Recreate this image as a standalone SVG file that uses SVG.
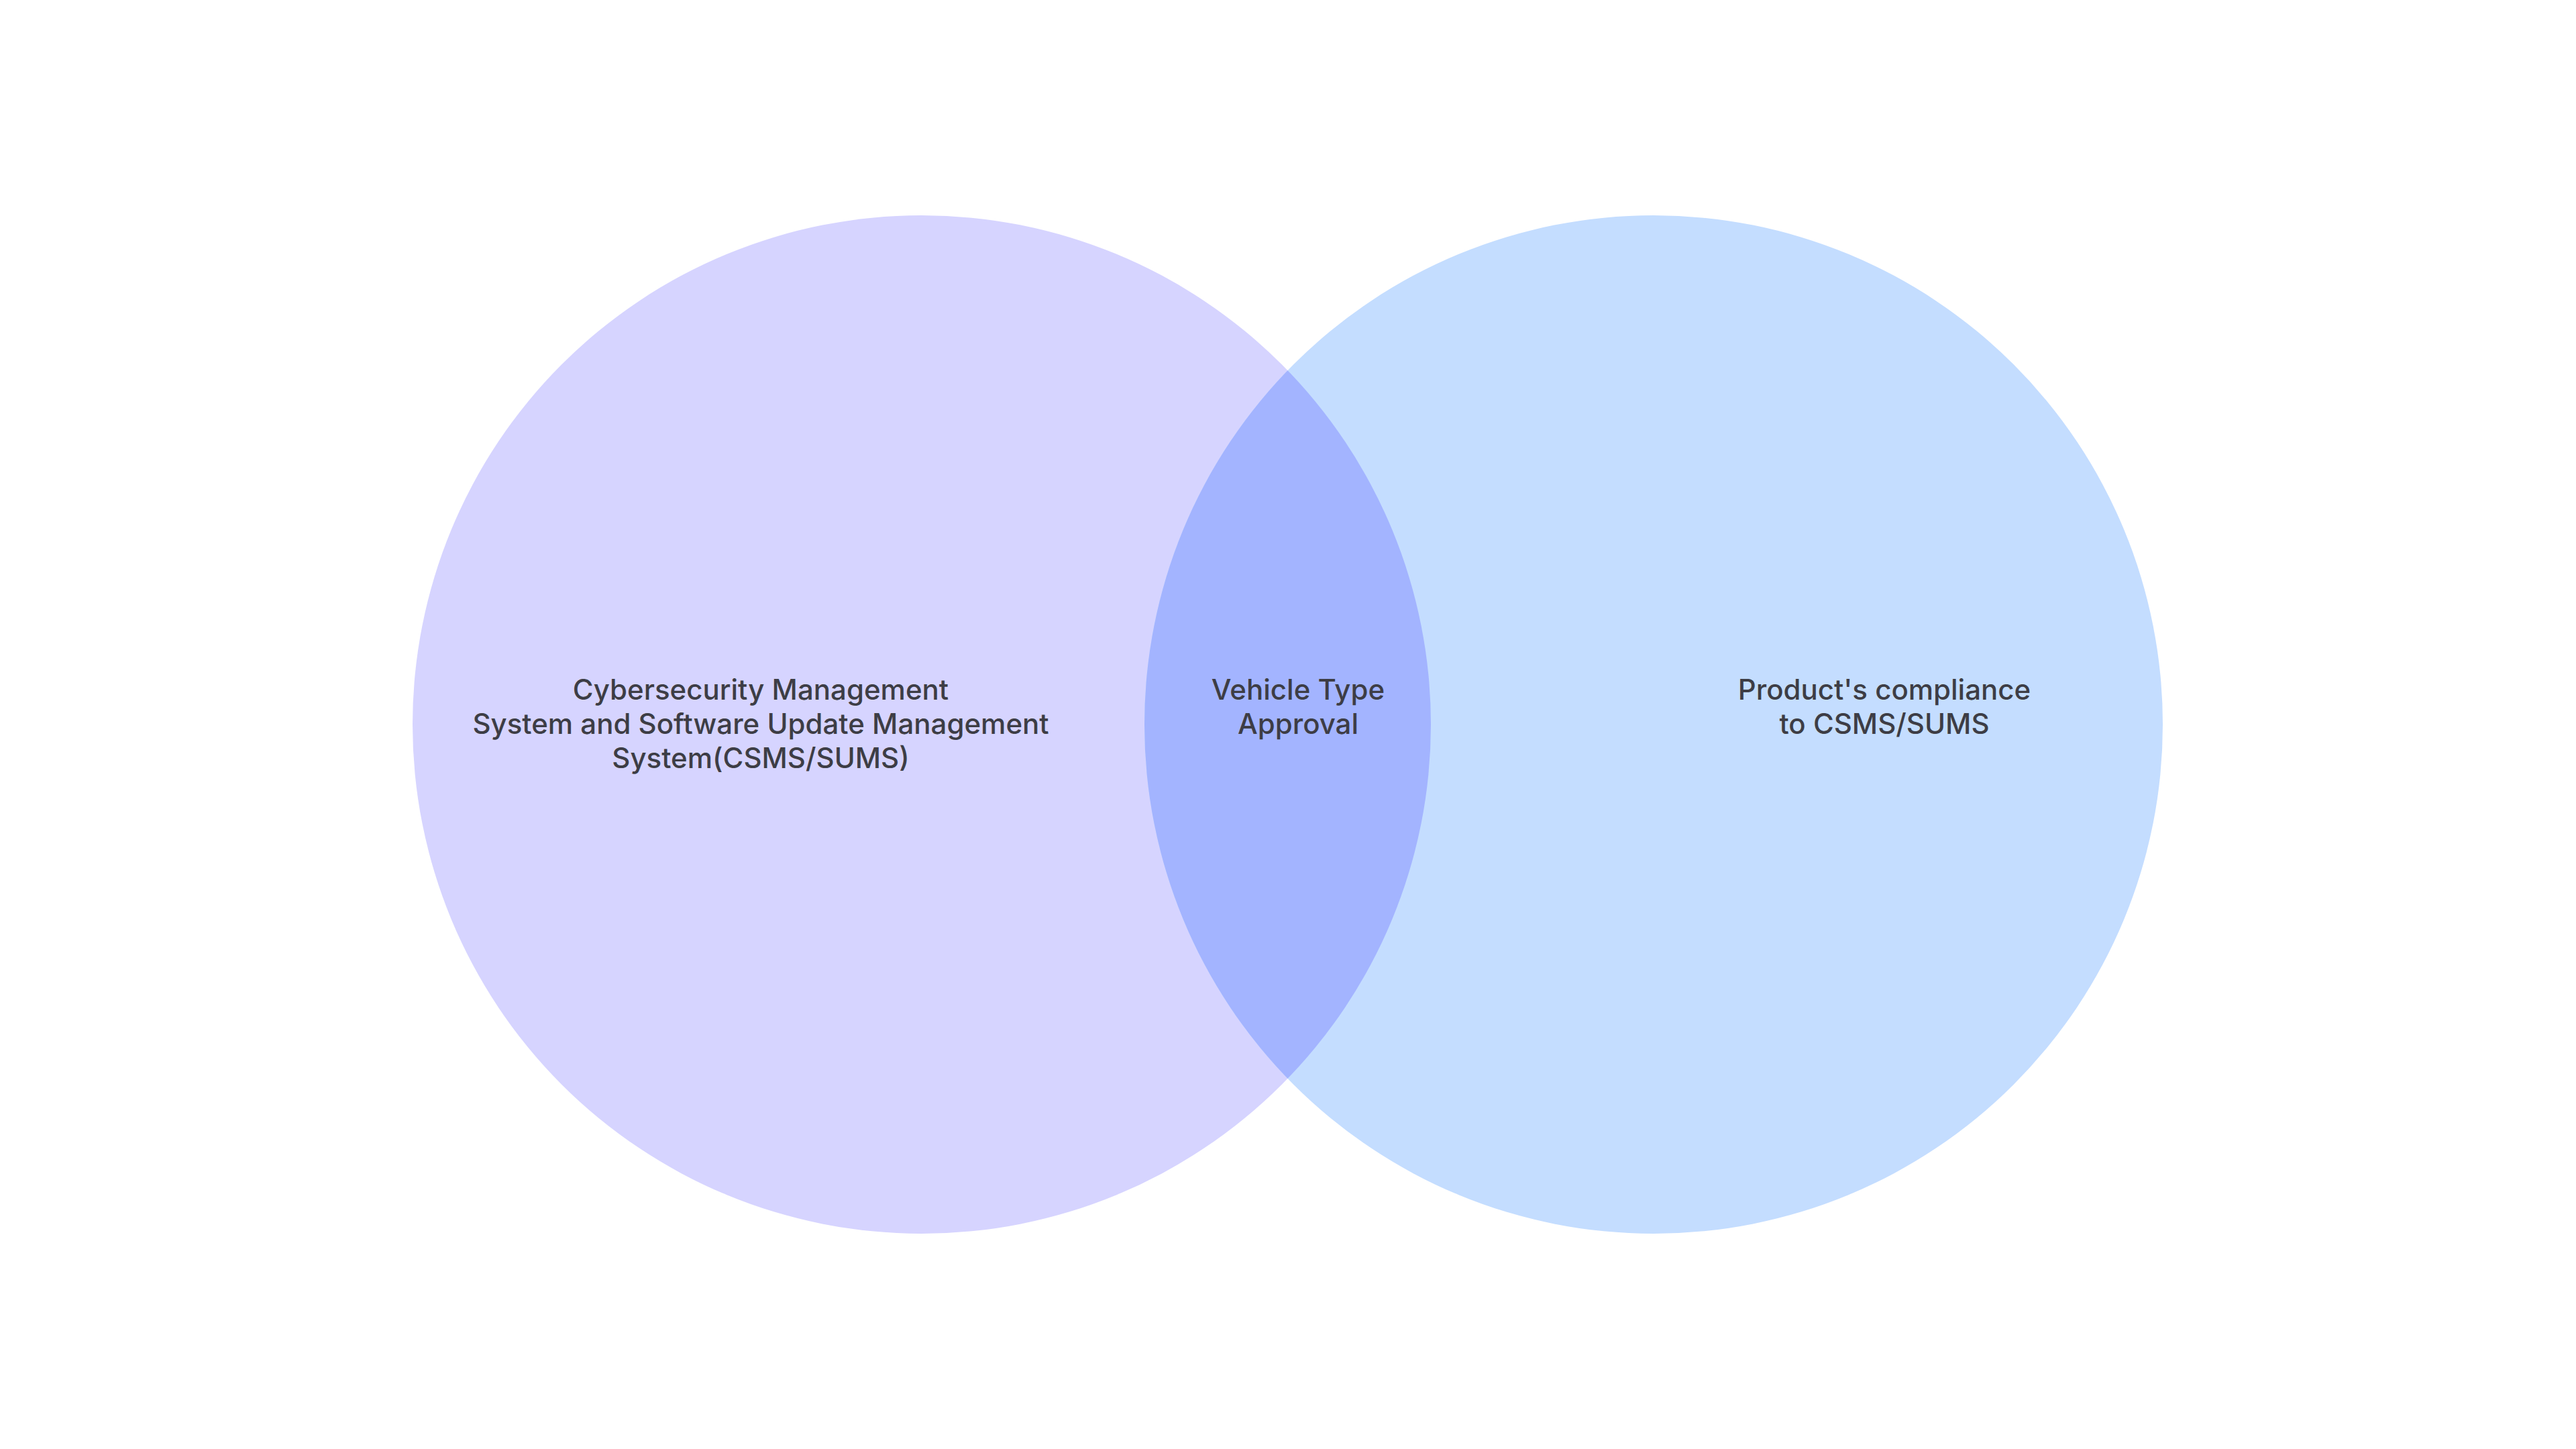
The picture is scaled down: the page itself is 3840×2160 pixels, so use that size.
<svg xmlns="http://www.w3.org/2000/svg" width="3840" height="2160" viewBox="0 0 3840 2160">
<style>
text{font-family:Inter,"Liberation Sans",sans-serif;font-size:42px;font-weight:500;fill:#3d3d45;text-anchor:middle}
</style>
<defs>
<clipPath id="cl"><circle cx="1374" cy="1080" r="759"/></clipPath>
</defs>
<rect width="3840" height="2160" fill="#fff"/>
<g id="left"><circle cx="1374" cy="1080" r="759" fill="#D6D4FF"/></g>
<g id="right"><circle cx="2465" cy="1080" r="759" fill="#C4DDFF"/></g>
<g id="overlap"><circle cx="2465" cy="1080" r="759" fill="#A3B4FF" clip-path="url(#cl)"/></g>
<g id="labels">
<text x="1134" y="1043">Cybersecurity Management</text>
<text x="1134" y="1094">System and Software Update Management</text>
<text x="1134" y="1145">System(CSMS/SUMS)</text>
<text x="1935" y="1043">Vehicle Type</text>
<text x="1935" y="1094">Approval</text>
<text x="2809" y="1043">Product's compliance</text>
<text x="2809" y="1094">to CSMS/SUMS</text>
</g>
</svg>
